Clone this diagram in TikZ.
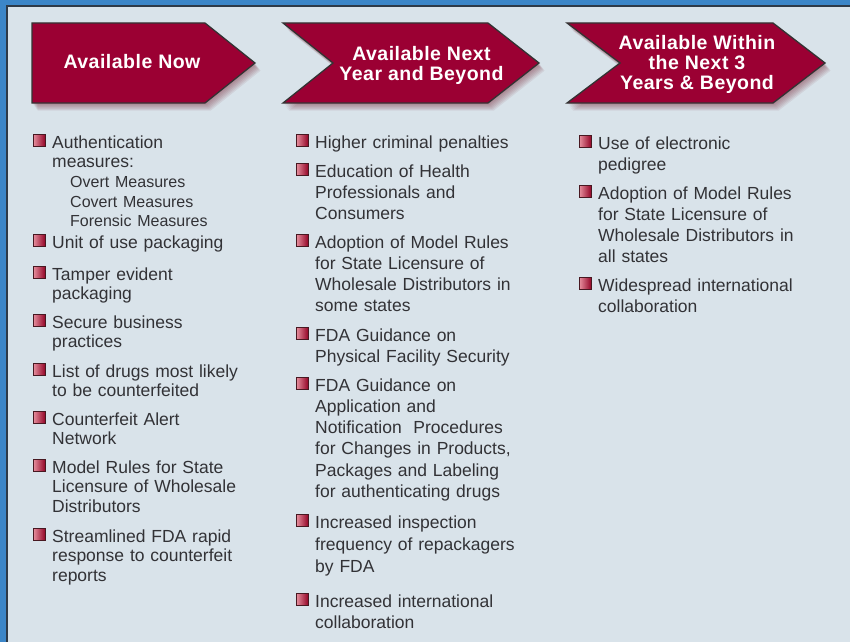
\documentclass[tikz,border=0pt]{standalone}
\usepackage{fontspec}
\setmainfont{Liberation Sans}
\newfontfamily\arrowfont[LetterSpace=2.5]{Liberation Sans}
\definecolor{bgc}{RGB}{217,227,234}
\definecolor{bluec}{RGB}{60,134,200}
\definecolor{darkc}{RGB}{46,58,72}
\definecolor{crim}{RGB}{155,0,51}
\definecolor{shc}{RGB}{120,40,55}
\definecolor{txt}{RGB}{50,50,54}
\definecolor{bulr}{RGB}{145,0,35}
\definecolor{bull}{RGB}{228,140,155}
\newcommand\myitem[4]{%
  \node[itemtext] (#1) at (#2,#3) {#4};
  \node[bul] (#1b) at ([xshift=-12.5pt,yshift=7.5pt]#1.base west) {};
}
\begin{document}
\begin{tikzpicture}[x=1pt,y=-1pt,
  itemtext/.style={anchor=base west,inner sep=0pt,text width=240pt,align=left,
    font=\fontsize{17.5}{19.7}\selectfont,text=txt},
  bul/.style={rectangle,inner sep=0pt,minimum width=12pt,minimum height=12.5pt,
    left color=bull,right color=bulr,draw=shc!60!black,line width=0.7pt},
  arrowshape/.style={fill=crim,draw=black!80,line width=1.3pt,line join=miter},
  arrowtext/.style={text=white,align=center,inner sep=0pt,
    font=\arrowfont\bfseries\fontsize{19.5}{20}\selectfont},
  shadowlayer/.style={fill=shc,opacity=0.085}]
\useasboundingbox (0,0) rectangle (850,642);
% frame
\fill[bgc] (0,0) rectangle (850,642);
\fill[bluec] (0,0) rectangle (6,642);
\fill[bluec] (0,0) rectangle (850,5);
\fill[darkc] (6,5) rectangle (8,642);
\fill[darkc] (6,5) rectangle (850,7);
% arrow shadows
\foreach \i in {1,...,7}{
  \fill[shadowlayer,shift={(\i*0.8,\i*1.1)}] (32,23) -- (205,23) -- (255,63) -- (205,103) -- (32,103) -- cycle;
  \fill[shadowlayer,shift={(\i*0.8,\i*1.1)}] (283,23) -- (488,23) -- (539,63) -- (488,103) -- (283,103) -- (333,63) -- cycle;
  \fill[shadowlayer,shift={(\i*0.8,\i*1.1)}] (567,23) -- (773,23) -- (825,63) -- (773,103) -- (567,103) -- (620,63) -- cycle;
}
% arrows
\draw[arrowshape] (32,23) -- (205,23) -- (255,63) -- (205,103) -- (32,103) -- cycle;
\draw[arrowshape] (283,23) -- (488,23) -- (539,63) -- (488,103) -- (283,103) -- (333,63) -- cycle;
\draw[arrowshape] (567,23) -- (773,23) -- (825,63) -- (773,103) -- (567,103) -- (620,63) -- cycle;
\node[arrowtext] (h1) at (132,62) {Available Now};
\node[arrowtext] (h2) at (421.5,65) {Available Next\\Year and Beyond};
\node[arrowtext] (h3) at (697,64.5) {Available Within\\the Next 3\\Years \& Beyond};
% column 1
\myitem{a1}{52}{148}{Authentication\\measures:\\\hspace*{18pt}{\fontsize{16}{19.7}\selectfont Overt Measures}\\\hspace*{18pt}{\fontsize{16}{19.7}\selectfont Covert Measures}\\\hspace*{18pt}{\fontsize{16}{19.7}\selectfont Forensic Measures}}
\myitem{a2}{52}{248}{Unit of use packaging}
\myitem{a3}{52}{280}{Tamper evident\\packaging}
\myitem{a4}{52}{328}{Secure business\\practices}
\myitem{a5}{52}{377}{List of drugs most likely\\to be counterfeited}
\myitem{a6}{52}{425}{Counterfeit Alert\\Network}
\myitem{a7}{52}{473}{Model Rules for State\\Licensure of Wholesale\\Distributors}
\myitem{a8}{52}{542}{Streamlined FDA rapid\\response to counterfeit\\reports}
% column 2
\tikzset{itemtext/.append style={font=\fontsize{17.5}{21.3}\selectfont}}
\myitem{b1}{315}{148}{Higher criminal penalties}
\myitem{b2}{315}{177}{Education of Health\\Professionals and\\Consumers}
\myitem{b3}{315}{248}{Adoption of Model Rules\\for State Licensure of\\Wholesale Distributors in\\some states}
\myitem{b4}{315}{341}{FDA Guidance on\\Physical Facility Security}
\myitem{b5}{315}{391}{FDA Guidance on\\Application and\\Notification\ \ Procedures\\for Changes in Products,\\Packages and Labeling\\for authenticating drugs}
\myitem{b6}{315}{528}{Increased inspection\\[1.5pt]frequency of repackagers\\by FDA}
\myitem{b7}{315}{607}{Increased international\\collaboration}
% column 3
\myitem{c1}{598}{149}{Use of electronic\\pedigree}
\myitem{c2}{598}{199}{Adoption of Model Rules\\for State Licensure of\\Wholesale Distributors in\\all states}
\myitem{c3}{598}{291}{Widespread international\\collaboration}
\end{tikzpicture}
\end{document}
